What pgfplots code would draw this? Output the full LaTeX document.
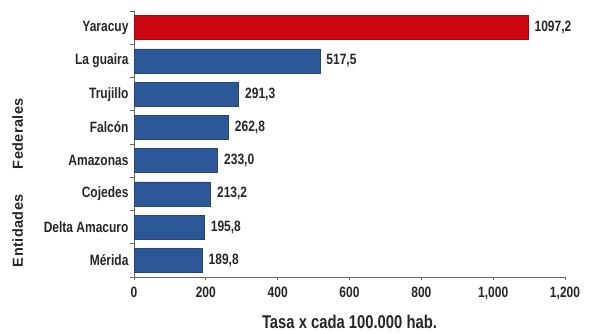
\documentclass[border=0pt]{standalone}
\usepackage{pgfplots}
\pgfplotsset{compat=1.18}
\usepackage{fontspec}
\setmainfont{Liberation Sans}[FakeStretch=0.8]
\newfontfamily\ylabfont{Liberation Sans}[LetterSpace=3]
\definecolor{barblue}{RGB}{45,88,152}
\definecolor{barred}{RGB}{204,8,16}
\begin{document}
\begin{tikzpicture}[x=1pt,y=1pt]
\path[use as bounding box] (0,0) rectangle (596,333);
\begin{axis}[
  at={(134pt,56pt)}, anchor=south west,
  scale only axis, width=431pt, height=266pt,
  xmin=0, xmax=1200, ymin=-0.5, ymax=7.5,
  xbar, bar width=24pt, bar shift=0pt,
  axis x line*=bottom, axis y line*=left,
  axis line style={gray!80!black, line width=0.8pt},
  xtick={0,200,...,1200},
  xticklabels={0,200,400,600,800,{1,000},{1,200}},
  x tick label style={font=\fontsize{15}{16}\selectfont\bfseries, text=black!85, yshift=-3pt},
  xtick style={gray!80!black, line width=0.8pt},
  tick align=outside, major tick length=3pt,
  ytick={0,...,7},
  yticklabels={Mérida,Delta Amacuro,Cojedes,Amazonas,Falcón,Trujillo,La guaira,Yaracuy},
  y tick label style={font=\fontsize{15}{16}\selectfont\bfseries, text=black!85, xshift=1pt},
  ytick style={draw=none},
  extra y ticks={-0.5,0.5,...,7.5},
  extra y tick labels={},
  extra y tick style={ytick style={draw=gray!80!black, line width=0.8pt}, major tick length=4pt, tick align=outside},
  xlabel={Tasa x cada 100.000 hab.},
  xlabel style={font=\fontsize{18.5}{20}\selectfont\bfseries, text=black!85, at={(axis description cs:0.5,0)}, anchor=center, yshift=-45pt},
  ylabel={\ylabfont Entidades\hspace{25pt}Federales},
  ylabel style={font=\fontsize{14.5}{16}\selectfont\bfseries, text=black!85, at={(axis description cs:-0.27,0.355)}, anchor=center, rotate=0},
  point meta=explicit symbolic,
  nodes near coords,
  every node near coord/.append style={font=\fontsize{15}{16}\selectfont\bfseries, text=black!85, anchor=west, xshift=3pt},
  clip=false,
]
\addplot[fill=barred, draw=barred!80!black] coordinates {(1097.2,7) [1097,2]};
\addplot[fill=barblue, draw=barblue!80!black] coordinates {
(517.5,6) [517,5]
(291.3,5) [291,3]
(262.8,4) [262,8]
(233.0,3) [233,0]
(213.2,2) [213,2]
(195.8,1) [195,8]
(189.8,0) [189,8]
};
\end{axis}
\end{tikzpicture}
\end{document}
